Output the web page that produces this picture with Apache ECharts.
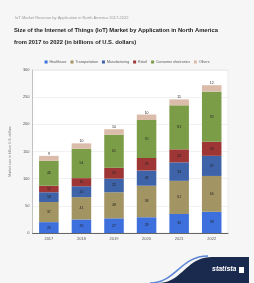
<!DOCTYPE html>
<html><head><meta charset="utf-8">
<script src="https://cdn.jsdelivr.net/npm/echarts@6/dist/echarts.min.js"></script>
<style>html,body{margin:0;padding:0;background:#f6f6f6}#c{width:254px;height:283px}</style>
</head><body><div id="c"></div>
<script>
const years = ['2017','2018','2019','2020','2021','2022'];
const seriesNames = ['Healthcare','Transportation','Manufacturing','Retail','Consumer electronics','Others'];
const healthcare = [20, 25, 27, 29, 35, 39];
const transportation = [37, 41, 48, 58, 61, 66];
const manufacturing = [18, 20, 25, 28, 34, 37];
const retail = [12, 15, 20, 23, 24, 26];
const consumer = [46, 54, 61, 70, 81, 92];
const others = [9, 10, 10, 10, 11, 12];
const values = [healthcare, transportation, manufacturing, retail, consumer, others];
const colors = ['#3d70dc','#a39563','#3e63a8','#9e3636','#7c9d48','#dbbcaa'];

// decorative logo wave (not data)
function bez(p0, p1, p2, p3, n) {
  const pts = [];
  for (let k = 0; k <= n; k++) {
    const t = k / n, u = 1 - t;
    pts.push([u*u*u*p0[0] + 3*u*u*t*p1[0] + 3*u*t*t*p2[0] + t*t*t*p3[0],
              u*u*u*p0[1] + 3*u*u*t*p1[1] + 3*u*t*t*p2[1] + t*t*t*p3[1]]);
  }
  return pts;
}
const wave = bez([158,283],[182,283],[186,257],[212,257],20).concat([[249,257],[249,283]]);

const chart = echarts.init(document.getElementById('c'));
chart.setOption({
  backgroundColor: '#f6f6f6',
  animation: false,
  textStyle: {fontFamily: 'Liberation Sans, Arial, sans-serif'},
  title: [
    {text: 'IoT Market Revenue by Application in North America 2017-2022', left: 10, top: 11,
     textStyle: {fontSize: 4, color: '#999', fontWeight: 'normal'}},
    {text: 'Size of the Internet of Things (IoT) Market by Application in North America\nfrom 2017 to 2022 (in billions of U.S. dollars)', left: 9, top: 19,
     textStyle: {fontSize: 5.8, color: '#222', fontWeight: 'bold', lineHeight: 12}}
  ],
  legend: {
    top: 55, left: 'center', itemWidth: 3, itemHeight: 3, itemGap: 4,
    icon: 'rect', textStyle: {fontSize: 3.5, color: '#555', padding: [0,0,0,-3]},
    data: seriesNames
  },
  grid: {left: 30, right: 26, top: 70, bottom: 50, show: true, backgroundColor: '#fff', borderColor: '#ddd', borderWidth: 0.5},
  xAxis: {
    type: 'category', data: years,
    axisLine: {lineStyle: {color: '#444', width: 0.8}},
    axisTick: {show: false},
    axisLabel: {fontSize: 4, color: '#555', margin: 4}
  },
  yAxis: {
    type: 'value', min: 0, max: 300, interval: 50,
    name: 'Market size in billion U.S. dollars', nameLocation: 'middle', nameGap: 10,
    nameTextStyle: {fontSize: 3.5, color: '#777'},
    axisLine: {show: true, lineStyle: {color: '#999', width: 0.5}},
    axisLabel: {fontSize: 4, color: '#555', margin: 3},
    splitLine: {lineStyle: {color: '#e2e2e2', width: 0.5}}
  },
  series: values.map((v, i) => ({
    name: seriesNames[i], type: 'bar', stack: 'total', data: v,
    barCategoryGap: '40%',
    itemStyle: {color: colors[i]},
    label: {show: true, position: i === 5 ? 'top' : 'inside', fontSize: 3.5, color: '#222', distance: 0}
  })),
  graphic: [
    {type: 'polygon', shape: {points: wave}, style: {fill: '#1a2a4f'}},
    {type: 'bezierCurve', shape: {x1: 150, y1: 283, cpx1: 176, cpy1: 283, cpx2: 180, cpy2: 256, x2: 208, y2: 256},
     style: {fill: null, stroke: '#5b84d6', lineWidth: 1.5}},
    {type: 'text', left: 212, top: 266,
     style: {text: 'statista', fill: '#fff', font: 'italic bold 7px Liberation Sans'}},
    {type: 'rect', shape: {x: 239, y: 267, width: 5, height: 6}, style: {fill: '#fff'}}
  ]
});
</script></body></html>
